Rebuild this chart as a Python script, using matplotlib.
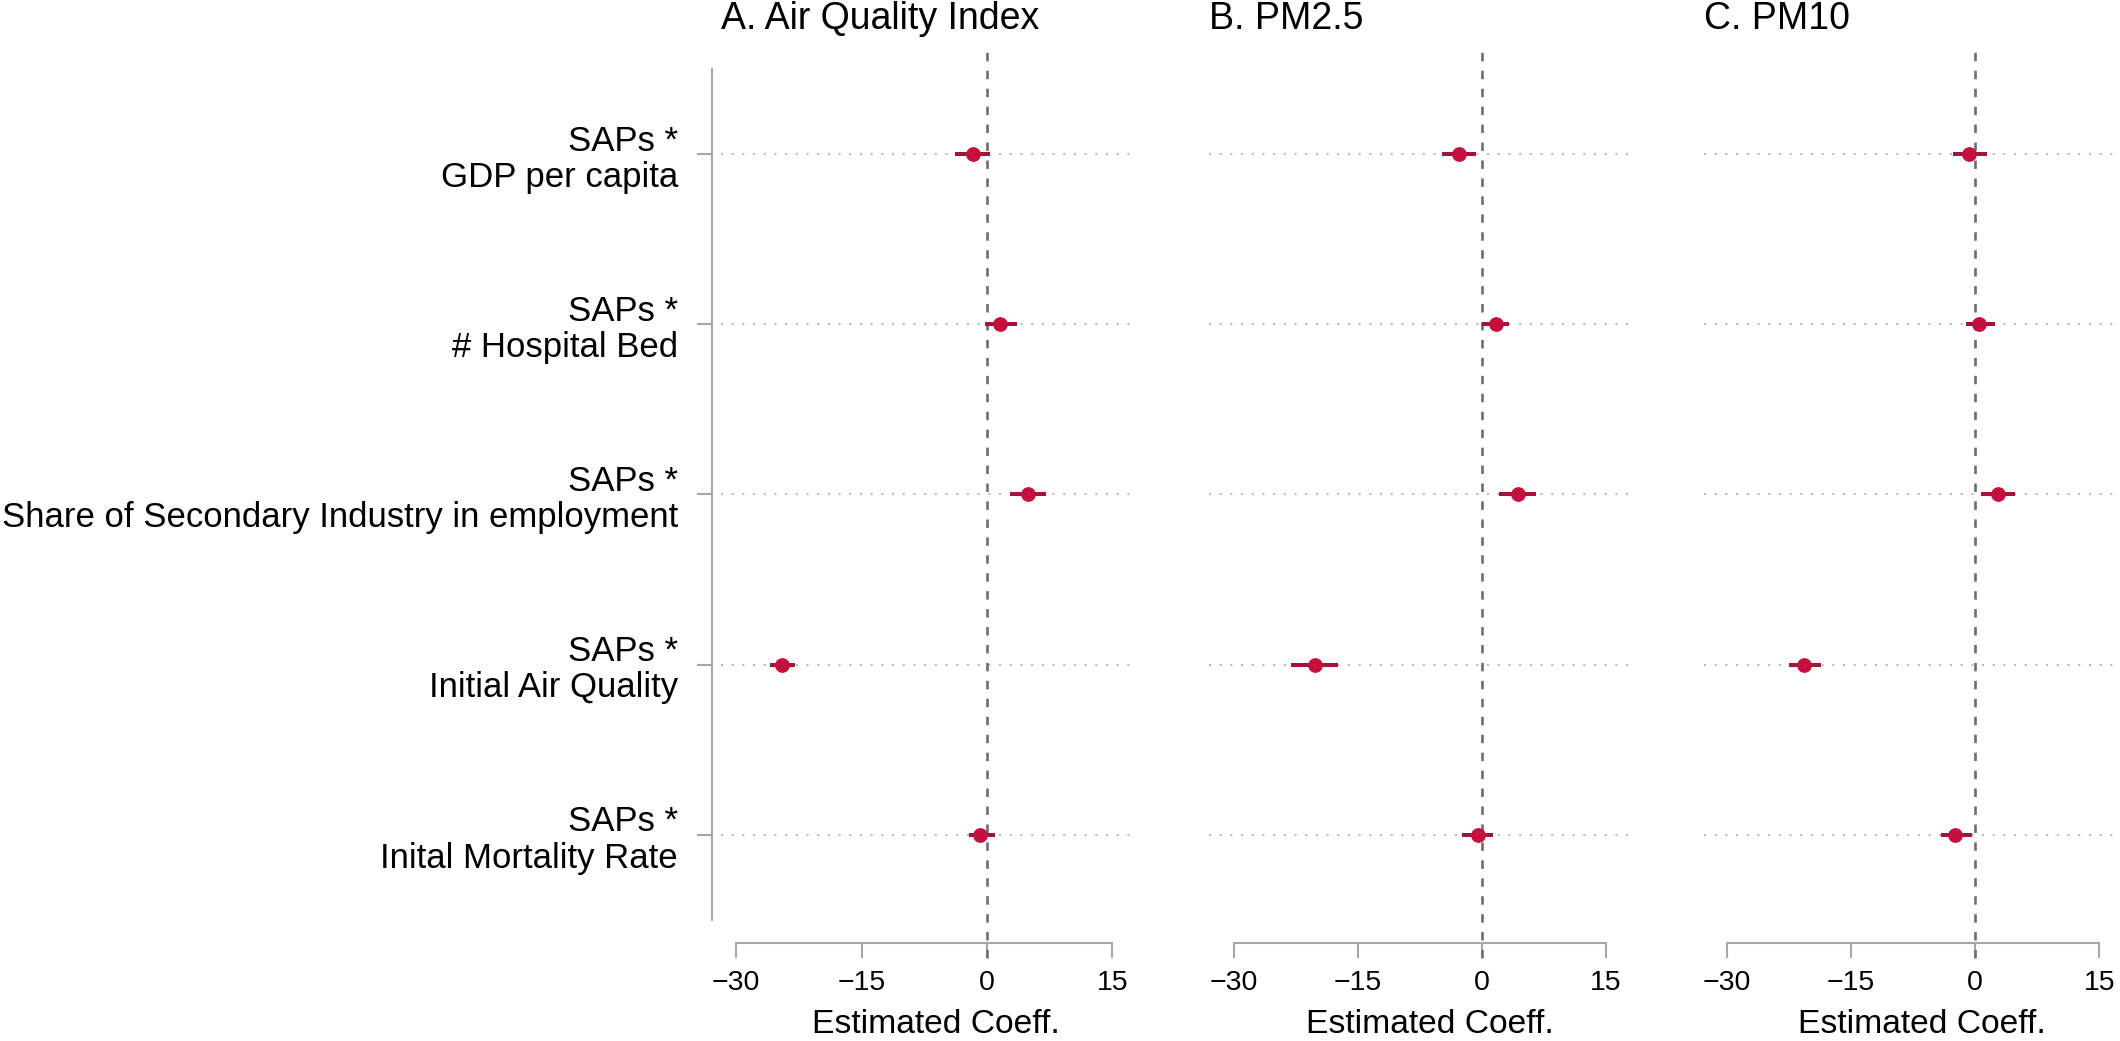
import matplotlib
matplotlib.use('Agg')
import matplotlib.pyplot as plt

plt.rcParams['font.family'] = ['Liberation Sans', 'DejaVu Sans']

# du lieu doc tu hinh goc (tu tren xuong duoi)
labels = ['SAPs *\nGDP per capita',
          'SAPs *\n# Hospital Bed',
          'SAPs *\nShare of Secondary Industry in employment',
          'SAPs *\nInitial Air Quality',
          'SAPs *\nInital Mortality Rate']
panel_titles = ['A. Air Quality Index', 'B. PM2.5', 'C. PM10']
xticks = [-30, -15, 0, 15]

aqi_coef = [-1.7, 1.6, 4.85, -24.5, -0.8]
aqi_lo = [-3.8, -0.2, 2.7, -25.9, -2.2]
aqi_hi = [0.4, 3.6, 7.0, -22.9, 1.0]

pm25_coef = [-2.8, 1.65, 4.3, -20.25, -0.5]
pm25_lo = [-4.8, 0.0, 2.05, -23.1, -2.4]
pm25_hi = [-0.75, 3.25, 6.5, -17.4, 1.35]

pm10_coef = [-0.7, 0.5, 2.75, -20.65, -2.4]
pm10_lo = [-2.7, -1.15, 0.65, -22.5, -4.2]
pm10_hi = [1.45, 2.35, 4.85, -18.6, -0.4]

coefs = [aqi_coef, pm25_coef, pm10_coef]
los = [aqi_lo, pm25_lo, pm10_lo]
his = [aqi_hi, pm25_hi, pm10_hi]

W, H = 2120, 1041
fig = plt.figure(figsize=(W / 100, H / 100), dpi=100)

# vi tri cac khung (pixel) va gioi han truc x
boxes = [(721, 1130), (1209, 1631), (1704, 2120)]
xlims = [(-31.8, 17.1), (-33.0, 18.0), (-32.8, 17.5)]
top_px, bot_px = 50, 943
ylim = (5.635, 0.389)

red_pt = '#C50F3C'
red_bar = '#A3143C'
gray = '#A6A6A6'

rows = list(range(1, len(labels) + 1))

for k in range(3):
    l, r = boxes[k]
    ax = fig.add_axes([l / W, (H - bot_px) / H, (r - l) / W, (bot_px - top_px) / H])
    ax.set_xlim(*xlims[k])
    ax.set_ylim(*ylim)

    # duong cham ngang
    for y in rows:
        ax.axhline(y, color='#B4B4B4', lw=1.4, ls=(0, (1, 4.5)), zorder=1)

    # duong 0
    ax.axvline(0, ymin=-15 / (bot_px - top_px), ymax=1, color='#6E6E6E', lw=1.9,
               ls=(0, (3.2, 3.6)), clip_on=False, zorder=2)

    for y, c, lo, hi in zip(rows, coefs[k], los[k], his[k]):
        ax.plot([lo, hi], [y, y], color=red_bar, lw=2.9, solid_capstyle='butt', zorder=3)
        ax.plot(c, y, 'o', color=red_pt, ms=9.6, zorder=4)

    for s in ['top', 'right']:
        ax.spines[s].set_visible(False)
    ax.spines['bottom'].set_bounds(-30, 15)
    ax.spines['bottom'].set_color(gray)
    ax.spines['bottom'].set_linewidth(1.5)
    ax.set_xticks(xticks)
    ax.set_xticklabels([str(t).replace('-', '\u2212') for t in xticks])
    ax.tick_params(axis='x', length=10.8, width=1.5, color=gray, pad=9, labelsize=20.5)
    ax.set_xlabel('Estimated Coeff.', fontsize=24.2, va='baseline')
    ax.xaxis.set_label_coords(0.5 + 10 / (r - l), -(1033 - bot_px) / (bot_px - top_px))

    if k == 0:
        ax.spines['left'].set_position(('outward', 6.3))
        ax.spines['left'].set_bounds(0.5, 5.5)
        ax.spines['left'].set_color(gray)
        ax.spines['left'].set_linewidth(1.5)
        ax.set_yticks(rows)
        ax.set_yticklabels(labels, fontsize=25, linespacing=1.12)
        ax.tick_params(axis='y', length=10.8, width=1.5, color=gray, pad=14)
    else:
        ax.spines['left'].set_visible(False)
        ax.set_yticks([])

    ax.set_title(panel_titles[k], loc='left', fontsize=27, pad=14.9)

fig.savefig('out.png', dpi=100)
